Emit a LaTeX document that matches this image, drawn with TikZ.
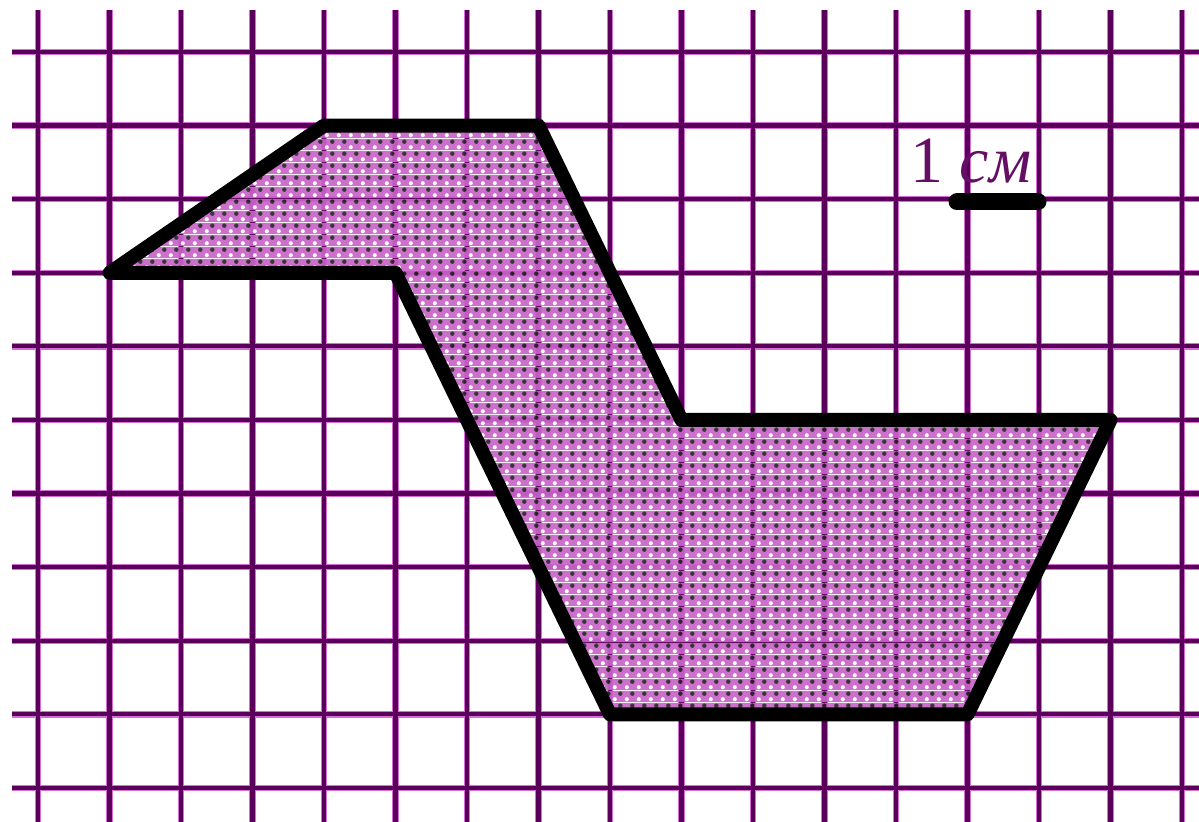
\documentclass[tikz,border=0pt]{standalone}
\usepackage{fontspec}
\setmainfont{Liberation Serif}
\usetikzlibrary{patterns}
\definecolor{gridcore}{RGB}{90,0,90}
\definecolor{gridhalo}{RGB}{215,110,215}
\definecolor{magfill}{RGB}{200,100,200}
\definecolor{labelcol}{RGB}{100,15,100}
\pgfdeclarepatterninherentlycolored{pinkdots}{\pgfpointorigin}{\pgfqpoint{6pt}{6pt}}{\pgfqpoint{6pt}{6pt}}{%
  \pgfsetfillcolor{magfill}\pgfpathrectangle{\pgfpointorigin}{\pgfqpoint{6pt}{6pt}}\pgfusepath{fill}%
  \pgfsetfillcolor{white}\pgfpathcircle{\pgfqpoint{1.5pt}{1.5pt}}{1.1pt}\pgfusepath{fill}%
  \pgfsetfillcolor{black!85}\pgfpathcircle{\pgfqpoint{4.5pt}{4.5pt}}{1.2pt}\pgfusepath{fill}%
}
\tikzset{
  halo/.style={draw=gridhalo, line width=3.2pt},
  gridline/.style={draw=gridcore, line width=2.1pt},
  outline/.style={draw=black, line width=7pt, line join=round},
  shapefill/.style={pattern=pinkdots, fill opacity=0.92},
  scalebar/.style={draw=black, line width=8.5pt, line cap=round},
  scalelabel/.style={text=labelcol, font=\fontsize{33}{36}\selectfont, inner sep=0pt, anchor=base west}
}
\begin{document}
\begin{tikzpicture}[x=0.5pt, y=-0.5pt]
  \fill[white] (0,0) rectangle (1199,822);
  \useasboundingbox (0,0) rectangle (1199,822);
  % grid
  \foreach \i in {0,...,16} {
    \path[halo] ({38+71.5*\i},10) -- ({38+71.5*\i},822);
  }
  \foreach \j in {0,...,10} {
    \path[halo] (12,{52+73.6*\j}) -- (1199,{52+73.6*\j});
  }
  \foreach \i in {0,...,16} {
    \path[gridline] ({38+71.5*\i},10) -- ({38+71.5*\i},822);
  }
  \foreach \j in {0,...,10} {
    \path[gridline] (12,{52+73.6*\j}) -- (1199,{52+73.6*\j});
  }
  % vertices of the figure
  \coordinate (A) at (109.5,272.8);
  \coordinate (B) at (324,125.6);
  \coordinate (C) at (538.5,125.6);
  \coordinate (D) at (681.5,420);
  \coordinate (E) at (1110.5,420);
  \coordinate (F) at (967.5,714.4);
  \coordinate (G) at (610,714.4);
  \coordinate (H) at (395.5,272.8);
  \path[shapefill] (A) -- (B) -- (C) -- (D) -- (E) -- (F) -- (G) -- (H) -- cycle;
  \path[outline] (A) -- (B) -- (C) -- (D) -- (E) -- (F) -- (G) -- (H) -- cycle;
  % scale
  \node[scalelabel] (lbl) at (910,183) {1 \textit{см}};
  \coordinate (s1) at (957,202);
  \coordinate (s2) at (1038,202);
  \draw[scalebar] (s1) -- (s2);
\end{tikzpicture}
\end{document}
